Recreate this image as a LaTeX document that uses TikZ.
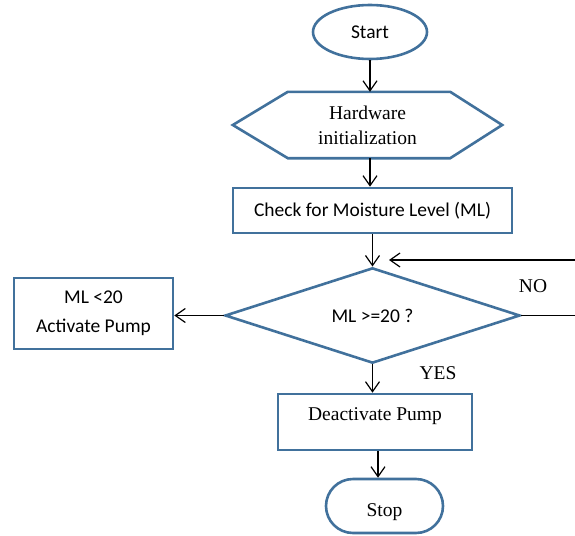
\documentclass[tikz,border=0pt]{standalone}
\usepackage{fontspec}
\setmainfont{Liberation Serif}
\newfontfamily\calfont{Carlito}
\usetikzlibrary{shapes.geometric,shapes.misc,arrows.meta}
\definecolor{shapeblue}{RGB}{65,113,156}

\begin{document}
\begin{tikzpicture}[x=1pt,y=-1pt,
    box/.style={draw=shapeblue,line width=2.6pt,inner sep=0pt,align=center,
        font=\fontsize{19.5}{25}\selectfont},
    sans/.style={font=\calfont\fontsize{19.5}{29}\selectfont},
    arr/.style={line width=1.2pt,-{Straight Barb[length=10pt,width=14pt]}},
    lbl/.style={font=\fontsize{19.5}{25}\selectfont}]
    \useasboundingbox (0,0) rectangle (575,535);
    % blocks
    \node[box,sans,ellipse,minimum width=114,minimum height=54] (start) at (370,32) {Start};
    \node[lbl,align=center,inner sep=0pt,minimum width=269,minimum height=66] (hw) at (367.5,125) {Hardware\\initialization};
    \draw[draw=shapeblue,line width=2.6pt] (hw.west)--([xshift=55pt]hw.north west)--([xshift=-52pt]hw.north east)
        --(hw.east)--([xshift=-52pt]hw.south east)--([xshift=55pt]hw.south west)--cycle;
    \node[box,sans,minimum width=279,minimum height=45] (chk) at (372.5,210.5) {Check for Moisture Level (ML)};
    \node[box,sans,diamond,minimum width=295,minimum height=89] (dia) at (372.5,315.5) {ML >=20 ?};
    \node[box,sans,minimum width=159,minimum height=71] (act) at (93.5,313.5) {ML <20\\Activate Pump};
    \node[box,minimum width=194,minimum height=56,text height=13pt,text depth=16pt] (deact) at (375,422) {Deactivate Pump};
    \node[box,rounded rectangle,minimum width=117,minimum height=54,text height=24pt,text depth=3pt] (stop) at (384.5,506) {Stop};
    % connectors
    \coordinate (rgt) at (582,260);
    \coordinate (back) at (389,260);
    \draw[arr] (start.south)--(start.south |- hw.north);
    \draw[arr] (start.south |- hw.south)--(start.south |- chk.north);
    \draw[arr] (chk.south)--(dia.north);
    \draw[arr] (dia.west)--(dia.west -| act.east);
    \draw[arr] (dia.south)--(dia.south |- deact.north);
    \draw[arr] ([xshift=3pt]deact.south)--([xshift=3pt]deact.south |- stop.north);
    \draw[arr] (dia.east)--(dia.east -| rgt)--(rgt)--(back);
    \node[lbl] (no) at (533,286) {NO};
    \node[lbl] (yes) at (438,373) {YES};
\end{tikzpicture}
\end{document}
